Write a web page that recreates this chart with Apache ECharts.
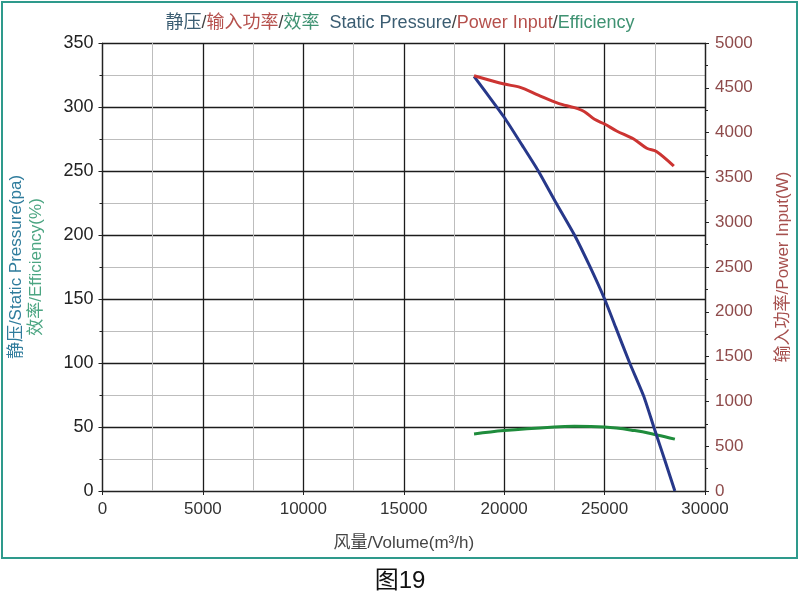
<!DOCTYPE html>
<html lang="zh">
<head>
    <meta charset="UTF-8">
    <title>图19</title>
    <style>
        html, body {
            margin: 0;
            padding: 0;
            background: white;
        }

        #chart {
            width: 800px;
            height: 597px;
        }
    </style>
    <script src="https://cdn.jsdelivr.net/npm/echarts@6/dist/echarts.min.js"></script>
</head>
<body>
<div id="chart"></div>
<script>
    // 静压 Static Pressure (pa)
    const pressureVolume = [18500, 20000, 20900, 21700, 22550, 23500, 24250, 25000, 25550, 26250, 26950, 27450, 28000, 28500];
    const pressureValue = [324, 292, 270, 250, 226, 200, 176, 150, 128, 100, 74, 50, 24, 0];

    // 输入功率 Power Input (W)
    const powerVolume = [18500, 20000, 20800, 21700, 22700, 23500, 24000, 24500, 25000, 25600, 26450, 27100, 27600, 28450];
    const powerValue = [4635, 4542, 4505, 4419, 4327, 4278, 4233, 4148, 4096, 4018, 3928, 3825, 3787, 3627];

    // 效率 Efficiency (%)
    const effVolume = [18500, 20000, 22500, 23500, 25000, 26500, 27600, 28500];
    const effValue = [44.5, 47.2, 50, 50.5, 50, 47.2, 43.8, 40.5];

    function pairs(xs, ys) {
        return xs.map((x, i) => [x, ys[i]]);
    }

    // 不要千分位
    const plain = v => String(v);

    const font = 'Liberation Sans, Arial, Noto Sans CJK SC, sans-serif';
    const chart = echarts.init(document.getElementById('chart'), null, {renderer: 'canvas'});

    const option = {
        backgroundColor: '#fff',
        animation: false,
        textStyle: {fontFamily: font},
        title: {
            text: '{p|静压}{s|/}{w|输入功率}{s|/}{e|效率}  {p|Static Pressure}{s|/}{w|Power Input}{s|/}{e|Efficiency}',
            left: 'center',
            top: 9,
            textStyle: {
                fontFamily: font,
                fontWeight: 'normal',
                rich: {
                    p: {color: '#3b5d72', fontSize: 18, fontWeight: 'normal', fontFamily: font},
                    s: {color: '#444', fontSize: 18, fontWeight: 'normal', fontFamily: font},
                    w: {color: '#b5504c', fontSize: 18, fontWeight: 'normal', fontFamily: font},
                    e: {color: '#3f9272', fontSize: 18, fontWeight: 'normal', fontFamily: font}
                }
            }
        },
        grid: {left: 97, right: 91, top: 43, bottom: 106},
        xAxis: {
            type: 'value',
            min: 0,
            max: 30000,
            interval: 5000,
            name: '风量/Volume(m³/h)',
            nameLocation: 'middle',
            nameGap: 44,
            nameTextStyle: {color: '#444', fontSize: 17, fontFamily: font},
            axisLine: {show: true, lineStyle: {color: '#222', width: 1.2}},
            axisTick: {show: true, length: 4, lineStyle: {color: '#222'}},
            axisLabel: {color: '#333', fontSize: 17, margin: 10, fontFamily: font, formatter: plain},
            splitLine: {show: true, lineStyle: {color: '#1c1c1c', width: 1.3}},
            minorTick: {show: true, splitNumber: 2, length: 0},
            minorSplitLine: {show: true, lineStyle: {color: '#bdbdbd', width: 1}}
        },
        yAxis: [
            {
                type: 'value',
                min: 0,
                max: 350,
                interval: 50,
                name: '{a|静压/Static Pressure(pa)}\n{b|效率/Efficiency(%)}',
                nameLocation: 'middle',
                nameRotate: 90,
                nameGap: 56,
                nameTextStyle: {
                    rich: {
                        a: {color: '#2f7c9c', fontSize: 17, lineHeight: 20, fontFamily: font},
                        b: {color: '#4ba582', fontSize: 17, lineHeight: 20, fontFamily: font}
                    }
                },
                axisLine: {show: true, lineStyle: {color: '#222', width: 1.2}},
                axisTick: {show: true, length: 4, lineStyle: {color: '#222'}},
                axisLabel: {color: '#222', fontSize: 18, margin: 9, fontFamily: font, formatter: plain},
                splitLine: {show: true, lineStyle: {color: '#1c1c1c', width: 1.3}},
                minorTick: {show: true, splitNumber: 2, length: 3, lineStyle: {color: '#222'}},
                minorSplitLine: {show: true, lineStyle: {color: '#bdbdbd', width: 1}}
            },
            {
                type: 'value',
                min: 0,
                max: 5000,
                interval: 500,
                position: 'right',
                name: '输入功率/Power Input(W)',
                nameLocation: 'middle',
                nameRotate: 90,
                nameGap: 70,
                nameTextStyle: {color: '#a6504e', fontSize: 17, fontFamily: font},
                axisLine: {show: true, lineStyle: {color: '#222', width: 1.2}},
                axisTick: {show: true, length: 4, lineStyle: {color: '#222'}},
                axisLabel: {color: '#8e4b4b', fontSize: 17, margin: 10, fontFamily: font, formatter: plain},
                splitLine: {show: false},
                minorTick: {show: true, splitNumber: 2, length: 3, lineStyle: {color: '#222'}}
            }
        ],
        graphic: [
            {
                type: 'rect',
                shape: {x: 2, y: 2, width: 795, height: 556},
                style: {fill: null, stroke: '#2e9a8c', lineWidth: 2},
                silent: true
            },
            {
                type: 'text',
                left: 'center',
                top: 569,
                style: {text: '图19', fontSize: 24, fill: '#111', fontFamily: font}
            }
        ],
        series: [
            {
                name: '静压',
                type: 'line',
                yAxisIndex: 0,
                data: pairs(pressureVolume, pressureValue),
                showSymbol: false,
                smooth: 0.2,
                lineStyle: {color: '#27388a', width: 3},
                z: 3
            },
            {
                name: '输入功率',
                type: 'line',
                yAxisIndex: 1,
                data: pairs(powerVolume, powerValue),
                showSymbol: false,
                smooth: 0.3,
                lineStyle: {color: '#cc3432', width: 3},
                z: 4
            },
            {
                name: '效率',
                type: 'line',
                yAxisIndex: 0,
                data: pairs(effVolume, effValue),
                showSymbol: false,
                smooth: 0.4,
                lineStyle: {color: '#1f8c3c', width: 3},
                z: 2
            }
        ]
    };

    chart.setOption(option);
</script>
</body>
</html>
